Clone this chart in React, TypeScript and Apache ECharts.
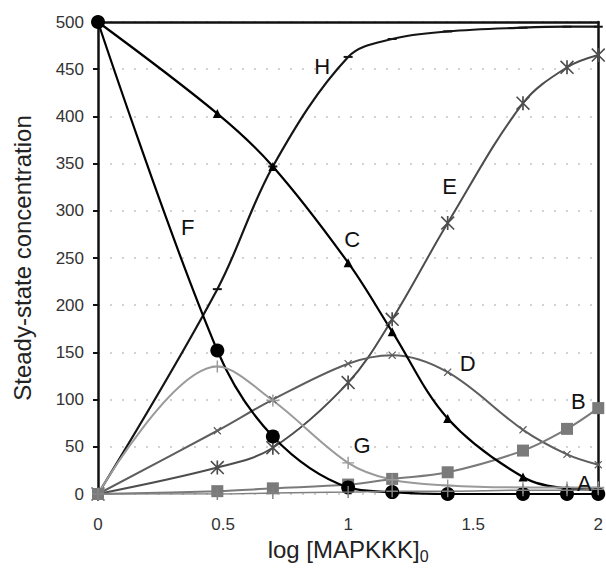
import React, { useEffect, useRef } from "react";
import * as echarts from "echarts";

const xs = [0, 0.477, 0.699, 1, 1.176, 1.398, 1.699, 1.875, 2];
const seriesA = [0, 0, 1, 2, 3, 3, 4, 4, 5];
const seriesB = [0, 3, 6, 10, 16, 23, 46, 69, 91];
const seriesC = [500, 403, 347, 245, 172, 80, 18, 6, 5];
const seriesD = [0, 67, 100, 138, 147, 129, 68, 42, 31];
const seriesE = [0, 28, 49, 118, 185, 287, 414, 452, 465];
const seriesF = [500, 152, 61, 7, 2, 0, 0, 0, 0];
const seriesG = [0, 135, 99, 33, 15, 9, 7, 7, 7];
const seriesH = [0, 217, 347, 463, 482, 490, 494, 495, 495];

const labels: [string, number, number][] = [
  ["F", 0.359, 282],
  ["H", 0.896, 453],
  ["E", 1.406, 326],
  ["C", 1.016, 270],
  ["D", 1.478, 138],
  ["B", 1.92, 98],
  ["G", 1.056, 51],
  ["A", 1.944, 11],
];

const PLUS = "path://M4.4,0H5.6V10H4.4Z M0,4.4H10V5.6H0Z";
const STAR =
  "path://M4.4,0H5.6V10H4.4Z M0.8,0 L10,9.2 L9.2,10 L0,0.8Z M9.2,0 L10,0.8 L0.8,10 L0,9.2Z";
const DASH = "path://M0,0H10V2H0Z";

function pts(ys: number[]) {
  return xs.map((x, i) => [x, ys[i]]);
}

export default function App() {
  const ref = useRef<HTMLDivElement>(null);
  useEffect(() => {
    if (!ref.current) return;
    const chart = echarts.init(ref.current, undefined, { renderer: "svg" });
    const font = "Liberation Sans, Arial, sans-serif";
    const mk = (
      name: string,
      ys: number[],
      color: string,
      symbol: string,
      size: number | number[],
      width: number,
      rotate = 0
    ) => ({
      name,
      type: "line",
      data: pts(ys),
      smooth: 0.35,
      symbol,
      symbolSize: size,
      symbolRotate: rotate,
      showSymbol: true,
      lineStyle: { color, width },
      itemStyle: { color, borderWidth: 0 },
      emphasis: { disabled: true },
    });
    const option: any = {
      animation: false,
      backgroundColor: "#fff",
      grid: { left: 98, right: 6, top: 22, bottom: 77 },
      xAxis: [
        {
          type: "value",
          min: 0,
          max: 2,
          interval: 0.5,
          name: "log [MAPKKK]{sub|0}",
          nameLocation: "middle",
          nameGap: 40,
          nameTextStyle: {
            fontFamily: font,
            fontSize: 24,
            color: "#222",
            rich: { sub: { fontSize: 16, fontFamily: font, color: "#222", padding: [14, 0, 0, 0] } },
          },
          axisLine: { show: false },
          axisTick: { show: false },
          splitLine: { show: false },
          axisLabel: { fontFamily: font, fontSize: 17, color: "#333", margin: 22 },
        },
        {
          type: "value",
          position: "top",
          min: 0,
          max: 2,
          axisLine: { show: true, onZero: false, lineStyle: { color: "#111", width: 2.5 } },
          axisTick: { show: false },
          axisLabel: { show: false },
          splitLine: { show: false },
        },
      ],
      yAxis: [
        {
          type: "value",
          min: 0,
          max: 500,
          interval: 50,
          name: "Steady-state concentration",
          nameLocation: "middle",
          nameGap: 64,
          nameTextStyle: { fontFamily: font, fontSize: 24, color: "#222" },
          axisLine: { show: true, onZero: false, lineStyle: { color: "#111", width: 2.5 } },
          axisTick: { show: true, length: 5, lineStyle: { color: "#111", width: 2 } },
          axisLabel: { fontFamily: font, fontSize: 17, color: "#333", margin: 14 },
          splitLine: {
            show: true,
            lineStyle: { color: "#c4c4c4", width: 1.5, type: [2, 10] },
          },
        },
        {
          type: "value",
          position: "right",
          min: 0,
          max: 500,
          axisLine: { show: true, onZero: false, lineStyle: { color: "#111", width: 2.5 } },
          axisTick: { show: false },
          axisLabel: { show: false },
          splitLine: { show: false },
        },
      ],
      series: [
        mk("H", seriesH, "#151515", DASH, [9, 2], 2.2),
        mk("E", seriesE, "#4d4d4d", STAR, 14, 2),
        mk("D", seriesD, "#5e5e5e", PLUS, 10, 2, 45),
        mk("B", seriesB, "#7a7a7a", "rect", 12, 2),
        mk("C", seriesC, "#000", "triangle", 9, 2.2),
        mk("F", seriesF, "#000", "circle", 14, 2.2),
        mk("G", seriesG, "#9a9a9a", PLUS, 12, 2),
        mk("A", seriesA, "#808080", PLUS, 12, 1.5),
      ],
    };
    chart.setOption(option);
    const texts = labels.map(([t, x, y]) => {
      const p = chart.convertToPixel({ xAxisIndex: 0, yAxisIndex: 0 }, [x, y]) as number[];
      return {
        type: "text",
        x: p[0],
        y: p[1],
        style: {
          text: t,
          fontFamily: font,
          fontSize: 22,
          fill: "#111",
          align: "center",
          verticalAlign: "middle",
        },
        z: 10,
      };
    });
    chart.setOption({ graphic: texts });
    return () => chart.dispose();
  }, []);
  return (
    <div
      ref={ref}
      style={{ position: "fixed", left: 0, top: 0, width: 606, height: 571, background: "#fff" }}
    />
  );
}
